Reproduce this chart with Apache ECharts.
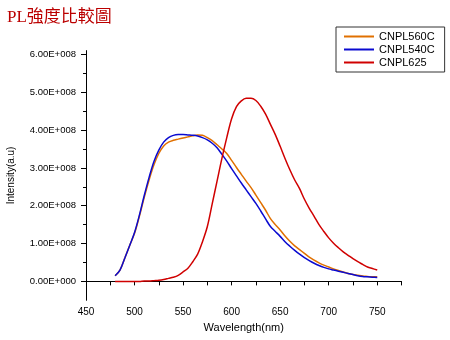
<!DOCTYPE html>
<html><head><meta charset="utf-8">
<script src="https://cdn.jsdelivr.net/npm/echarts@6/dist/echarts.min.js"></script>
<style>html,body{margin:0;padding:0;background:#fff}#c{width:450px;height:340px}</style>
</head><body><div id="c"></div>
<script>
// wavelengths (nm)
const wavelengths = [480,485,490,495,500,505,510,515,520,525,530,535,540,545,550,555,560,565,570,575,580,585,590,595,600,605,610,615,620,625,630,635,640,645,650,655,660,665,670,675,680,685,690,695,700,705,710,715,720,725,730,735,740,745,750];
// intensities in units of 1E+008
const cnpl560c = [0.15,0.30,0.62,0.95,1.27,1.72,2.22,2.68,3.08,3.38,3.58,3.68,3.73,3.76,3.79,3.82,3.85,3.87,3.86,3.80,3.72,3.61,3.50,3.38,3.20,3.01,2.83,2.65,2.48,2.28,2.08,1.88,1.66,1.50,1.36,1.20,1.06,0.94,0.84,0.74,0.64,0.56,0.49,0.43,0.38,0.33,0.29,0.25,0.21,0.18,0.16,0.14,0.13,0.12,0.12];
const cnpl540c = [0.15,0.30,0.62,0.95,1.29,1.75,2.27,2.75,3.17,3.47,3.68,3.80,3.86,3.88,3.88,3.87,3.86,3.84,3.80,3.74,3.65,3.53,3.36,3.18,2.98,2.79,2.60,2.42,2.24,2.06,1.86,1.65,1.45,1.32,1.19,1.05,0.93,0.82,0.72,0.63,0.55,0.48,0.42,0.37,0.33,0.30,0.27,0.24,0.21,0.18,0.15,0.13,0.12,0.11,0.10];
const cnpl625 = [0.00,0.00,0.00,0.00,0.00,0.00,0.01,0.01,0.02,0.03,0.05,0.08,0.11,0.16,0.25,0.35,0.52,0.72,1.05,1.45,2.05,2.65,3.25,3.80,4.30,4.62,4.77,4.84,4.84,4.78,4.63,4.42,4.15,3.88,3.57,3.25,2.95,2.68,2.45,2.17,1.93,1.72,1.50,1.32,1.15,1.01,0.89,0.78,0.69,0.60,0.52,0.45,0.38,0.34,0.30];
const seriesNames = ['CNPL560C','CNPL540C','CNPL625'];
const yMajorTicks = [0,1,2,3,4,5,6];
const yMinorTicks = [0.5,1.5,2.5,3.5,4.5,5.5];
const xLabelTicks = [450,500,550,600,650,700,750];
const xAllTicks = [450,475,500,525,550,575,600,625,650,675,700,725,750,775];

const pair = arr => wavelengths.map((w,i)=>[w,arr[i]]);
const fmtY = v => v===0 ? '0.00E+000' : v.toFixed(2)+'E+008';
const font = 'Arial, "Liberation Sans", sans-serif';
const colors = ['#e07000','#0a0ad0','#d00000'];

const chart = echarts.init(document.getElementById('c'));
chart.setOption({
  animation:false,
  title:{text:'PL強度比較圖',left:2,top:4,
    textStyle:{fontFamily:'"Liberation Serif","Noto Sans CJK TC",serif',fontSize:17,fontWeight:'normal',color:'#bb0000'}},
  legend:{left:336,top:27,orient:'vertical',itemGap:2,itemWidth:30,itemHeight:2,icon:'rect',
    padding:[4,10,4,8],borderColor:'#333',borderWidth:1,
    textStyle:{fontFamily:font,fontSize:11,color:'#000'},data:seriesNames},
  grid:{left:86,right:48.5,top:50.6,bottom:39.7,outerBoundsMode:'none',containLabel:false},
  xAxis:[{type:'value',min:450,max:775,interval:25,
    name:'Wavelength(nm)',nameLocation:'middle',nameGap:22,
    nameTextStyle:{fontFamily:font,fontSize:11,color:'#000'},
    axisLine:{lineStyle:{color:'#000',width:1}},
    axisTick:{customValues:xAllTicks,length:4,lineStyle:{color:'#000'}},
    axisLabel:{customValues:xLabelTicks,margin:7,fontFamily:font,fontSize:10,color:'#000'},
    splitLine:{show:false}}],
  yAxis:[{type:'value',min:-0.5,max:6.1,
    name:'Intensity(a.u)',nameLocation:'middle',nameGap:70,
    nameTextStyle:{fontFamily:font,fontSize:10,color:'#000'},
    axisLine:{lineStyle:{color:'#000',width:1}},
    axisTick:{customValues:yMajorTicks,length:5,lineStyle:{color:'#000'}},
    axisLabel:{customValues:yMajorTicks,margin:10,formatter:fmtY,fontFamily:font,fontSize:9.5,color:'#000'},
    splitLine:{show:false}},
   {type:'value',min:-0.5,max:6.1,position:'left',
    axisLine:{show:false},
    axisTick:{customValues:yMinorTicks,length:3,lineStyle:{color:'#000'}},
    axisLabel:{show:false},splitLine:{show:false}}],
  series:seriesNames.map((n,i)=>({name:n,type:'line',
    data:pair([cnpl560c,cnpl540c,cnpl625][i]),showSymbol:false,symbol:'none',smooth:0.35,
    lineStyle:{color:colors[i],width:1.5},itemStyle:{color:colors[i]}}))
});
</script></body></html>
